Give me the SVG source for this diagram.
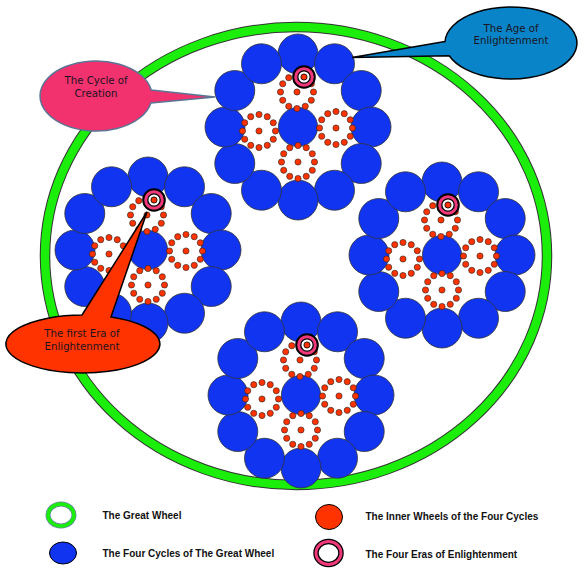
<svg xmlns="http://www.w3.org/2000/svg" xmlns:xlink="http://www.w3.org/1999/xlink" width="585" height="576" viewBox="0 0 585 576">
<style>
.blue{fill:#1034f0;stroke:#333;stroke-width:0.8}
.dot{fill:#ff3300;stroke:#222;stroke-width:0.6}
.ctext{font-family:"DejaVu Sans","Liberation Sans",sans-serif;font-size:10.2px;fill:#1a1420;text-anchor:middle}
.ltext{font-family:"Liberation Sans",Arial,sans-serif;font-size:10px;font-weight:bold;fill:#111}
</style>
<defs>
<g id="dotring">
<circle class="dot" cx="0" cy="0" r="3.1"/>
<circle class="dot" cx="16.5" cy="0" r="3.1"/>
<circle class="dot" cx="14.29" cy="8.25" r="3.1"/>
<circle class="dot" cx="8.25" cy="14.29" r="3.1"/>
<circle class="dot" cx="0" cy="16.5" r="3.1"/>
<circle class="dot" cx="-8.25" cy="14.29" r="3.1"/>
<circle class="dot" cx="-14.29" cy="8.25" r="3.1"/>
<circle class="dot" cx="-16.5" cy="0" r="3.1"/>
<circle class="dot" cx="-14.29" cy="-8.25" r="3.1"/>
<circle class="dot" cx="-8.25" cy="-14.29" r="3.1"/>
<circle class="dot" cx="0" cy="-16.5" r="3.1"/>
<circle class="dot" cx="8.25" cy="-14.29" r="3.1"/>
<circle class="dot" cx="14.29" cy="-8.25" r="3.1"/>
</g>
<g id="era">
<circle cx="0" cy="0" r="10.8" fill="#f0387a" stroke="#000" stroke-width="2"/>
<circle cx="0" cy="0" r="6.2" fill="#fff" stroke="#000" stroke-width="1.3"/>
<circle cx="0" cy="0" r="3.1" fill="#ff3300" stroke="#000" stroke-width="0.8"/>
</g>
<g id="cluster">
<circle class="blue" cx="0" cy="-73" r="20"/>
<circle class="blue" cx="36.5" cy="-63.22" r="20"/>
<circle class="blue" cx="63.22" cy="-36.5" r="20"/>
<circle class="blue" cx="73" cy="0" r="20"/>
<circle class="blue" cx="63.22" cy="36.5" r="20"/>
<circle class="blue" cx="36.5" cy="63.22" r="20"/>
<circle class="blue" cx="0" cy="73" r="20"/>
<circle class="blue" cx="-36.5" cy="63.22" r="20"/>
<circle class="blue" cx="-63.22" cy="36.5" r="20"/>
<circle class="blue" cx="-73" cy="0" r="20"/>
<circle class="blue" cx="-63.22" cy="-36.5" r="20"/>
<circle class="blue" cx="-36.5" cy="-63.22" r="20"/>
<circle class="blue" cx="0" cy="0" r="19.6"/>
<use xlink:href="#dotring" href="#dotring" x="-1" y="-35"/>
<use xlink:href="#dotring" href="#dotring" x="-39" y="4"/>
<use xlink:href="#dotring" href="#dotring" x="38" y="1"/>
<use xlink:href="#dotring" href="#dotring" x="0" y="35"/>
<use xlink:href="#era" href="#era" x="6" y="-50"/>
</g>
</defs>
<rect width="585" height="576" fill="#fff"/>
<g id="great-wheel">
<ellipse cx="296" cy="256" rx="251" ry="229" fill="none" stroke="#333" stroke-width="10.5"/>
<ellipse cx="296" cy="256" rx="251" ry="229" fill="none" stroke="#1aee0a" stroke-width="8.5"/>
</g>
<g id="cycle-top"><use xlink:href="#cluster" href="#cluster" x="298" y="127"/></g>
<g id="cycle-left"><use xlink:href="#cluster" href="#cluster" x="148" y="250"/></g>
<g id="cycle-right"><use xlink:href="#cluster" href="#cluster" x="442" y="255"/></g>
<g id="cycle-bottom"><use xlink:href="#cluster" href="#cluster" x="301" y="395"/></g>
<g id="connectors">
<g id="callout-creation">
<path d="M151.2,90 L215,97 L150.9,103 A56,35 0 1 1 151.2,90 Z" fill="#f2316f" stroke="#5a7594" stroke-width="1.5"/>
<text class="ctext" x="96" y="84">The Cycle of</text>
<text class="ctext" x="96" y="97">Creation</text>
</g>
<g id="callout-age">
<path d="M445,41.5 L352,57.5 L449.2,55.7 A66,36 0 1 0 445,41.5 Z" fill="#0a84c8" stroke="#000" stroke-width="1.5"/>
<text class="ctext" x="511" y="31.5">The Age of</text>
<text class="ctext" x="511" y="44">Enlightenment</text>
</g>
<g id="callout-first-era">
<path d="M82,315 L147,212 L111,317 A77,29 0 1 1 82,315 Z" fill="#ff3300" stroke="#000" stroke-width="1.5"/>
<text class="ctext" x="82" y="337">The first Era of</text>
<text class="ctext" x="82" y="350">Enlightenment</text>
</g>
</g>
<g id="legend">
<g id="legend-great-wheel">
<ellipse cx="61" cy="515" rx="13" ry="11" fill="#fff" stroke="#6a88a8" stroke-width="5"/>
<ellipse cx="61" cy="515" rx="13" ry="11" fill="none" stroke="#1aee0a" stroke-width="3.5"/>
<text class="ltext" x="102.5" y="519">The Great Wheel</text>
</g>
<g id="legend-cycles">
<ellipse cx="63" cy="553" rx="13.5" ry="11" class="blue" style="stroke:#000;stroke-width:1"/>
<text class="ltext" x="102.5" y="557">The Four Cycles of The Great Wheel</text>
</g>
<g id="legend-inner">
<ellipse cx="329" cy="517" rx="13.5" ry="12.5" fill="#ff3300" stroke="#000" stroke-width="1"/>
<text class="ltext" x="365.5" y="520">The Inner Wheels of the Four Cycles</text>
</g>
<g id="legend-eras">
<ellipse cx="328.5" cy="553" rx="12.5" ry="11.5" fill="#fff" stroke="#000" stroke-width="5.5"/>
<ellipse cx="328.5" cy="553" rx="12.5" ry="11.5" fill="none" stroke="#f0387a" stroke-width="3"/>
<text class="ltext" x="365.5" y="558">The Four Eras of Enlightenment</text>
</g>
</g>
</svg>
